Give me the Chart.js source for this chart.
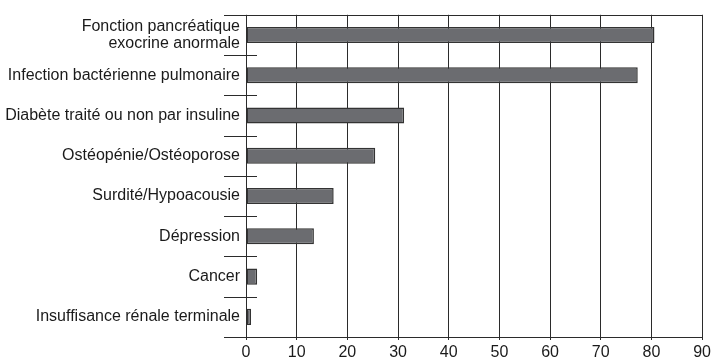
<!DOCTYPE html>
<html>
<head>
<meta charset="utf-8">
<script src="https://cdn.jsdelivr.net/npm/chart.js@4"></script>
<style>
  html, body { margin: 0; padding: 0; background: #fff; }
  #wrap { width: 715px; height: 364px; position: relative; }
</style>
</head>
<body>
<div id="wrap"><canvas id="chart"></canvas></div>
<script>
// ── Datos ──
const categories = [
  ['Fonction pancréatique', 'exocrine anormale'],
  'Infection bactérienne pulmonaire',
  'Diabète traité ou non par insuline',
  'Ostéopénie/Ostéoporose',
  'Surdité/Hypoacousie',
  'Dépression',
  'Cancer',
  'Insuffisance rénale terminale',
];
const values = [80.6, 77.3, 31.2, 25.5, 17.3, 13.4, 2.2, 1.0];
const xTicks = [0, 10, 20, 30, 40, 50, 60, 70, 80, 90];

const LINE = '#2b2b2b';
const FONT = { family: 'Liberation Sans, Arial, sans-serif', size: 16, lineHeight: 1.1 };

// Marcas entre categorías (cruzan el eje) + línea superior
const dividers = {
  id: 'dividers',
  afterDraw(chart) {
    const { ctx, chartArea: a, scales: { y } } = chart;
    ctx.save();
    ctx.strokeStyle = LINE;
    ctx.lineWidth = 1;
    ctx.beginPath();
    for (let i = 0; i <= categories.length; i++) {
      const py = Math.round(y.getPixelForValue(i - 0.5)) + 0.5;
      const right = i === 0 || i === categories.length ? a.right : a.left + 11;
      ctx.moveTo(a.left - 22, py);
      ctx.lineTo(right, py);
    }
    ctx.stroke();
    ctx.restore();
  },
};

new Chart(document.getElementById('chart').getContext('2d'), {
  type: 'bar',
  data: {
    labels: categories,
    datasets: [{
      data: values,
      backgroundColor: '#6b6c70',
      borderColor: '#333333',
      borderWidth: 1.5,
      borderSkipped: false,
      barPercentage: 0.4,
      categoryPercentage: 1,
    }],
  },
  options: {
    indexAxis: 'y',
    responsive: true,
    maintainAspectRatio: false,
    animation: false,
    layout: { padding: { top: 10, right: 7, left: 0, bottom: 0 } },
    plugins: { legend: { display: false }, tooltip: { enabled: false } },
    scales: {
      x: {
        min: 0, max: 90,
        afterBuildTicks: s => { s.ticks = xTicks.map(v => ({ value: v })); },
        afterFit: s => { s.height = 27; },
        border: { display: true, color: LINE, width: 1 },
        grid: { color: LINE, lineWidth: 1, tickLength: 3, drawTicks: true },
        ticks: { color: '#1a1a1a', font: FONT, padding: 4, maxRotation: 0 },
      },
      y: {
        afterFit: s => { s.width = 246; },
        border: { display: false },
        grid: { display: false, drawTicks: false },
        ticks: { color: '#1a1a1a', font: FONT, padding: 6, crossAlign: 'near' },
      },
    },
  },
  plugins: [dividers],
});
</script>
</body>
</html>
